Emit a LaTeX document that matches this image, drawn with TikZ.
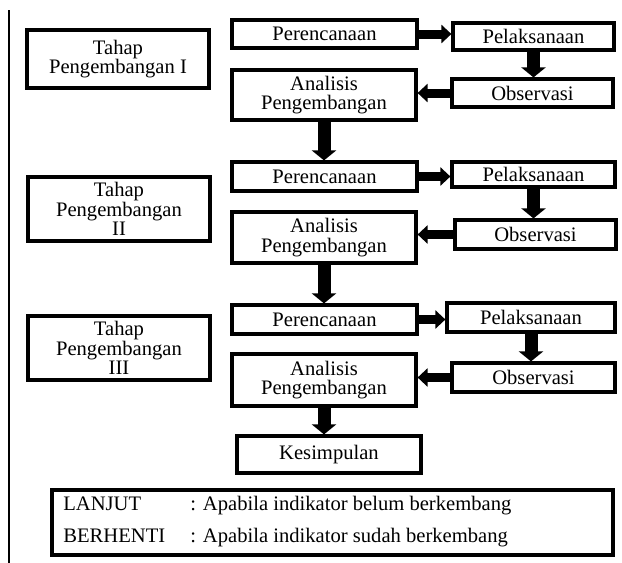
\documentclass[tikz,border=0pt]{standalone}
\usepackage{fontspec}
\setmainfont{Liberation Serif}
\usetikzlibrary{arrows.meta}

\begin{document}
\begin{tikzpicture}[x=0.5pt,y=-0.5pt,
  box/.style={draw,line width=1.6pt,inner sep=0pt,align=center,font=\fontsize{10.3}{9.6}\selectfont},
  txt/.style={anchor=base west,inner sep=0pt,font=\fontsize{10.3}{12}\selectfont},
  hbar/.style={line width=4.5pt,-{Triangle[length=5pt,width=9pt]}},
  vbar/.style={line width=6.5pt,-{Triangle[length=5pt,width=12pt]}}]
  \useasboundingbox (0,0) rectangle (622,563);
  % Margin line on the left
  \draw[line width=0.6pt] (9,10) -- (9,563);
  % Stage boxes
  \node[box,minimum width=91pt,minimum height=29pt] (tahap1) at (118,59) {Tahap\\Pengembangan I};
  \node[box,minimum width=91pt,minimum height=32pt] (tahap2) at (119,209) {Tahap\\Pengembangan\\II};
  \node[box,minimum width=91pt,minimum height=32pt] (tahap3) at (119,348) {Tahap\\Pengembangan\\III};
  % Cycle I
  \node[box,minimum width=92.5pt,minimum height=14pt] (per1) at (324.5,34) {Perencanaan};
  \node[box,minimum width=80.5pt,minimum height=13.5pt] (pel1) at (533.5,36.5) {Pelaksanaan};
  \node[box,minimum width=92pt,minimum height=25pt] (ana1) at (324,95) {Analisis\\Pengembangan};
  \node[box,minimum width=80.5pt,minimum height=14pt] (obs1) at (532.5,93) {Observasi};
  % Cycle II
  \node[box,minimum width=92.5pt,minimum height=14.5pt] (per2) at (324.5,176.5) {Perencanaan};
  \node[box,minimum width=81.5pt,minimum height=12.5pt] (pel2) at (533.5,174.5) {Pelaksanaan};
  \node[box,minimum width=92pt,minimum height=25.5pt] (ana2) at (324,237.5) {Analisis\\Pengembangan};
  \node[box,minimum width=80.5pt,minimum height=14.5pt] (obs2) at (535.5,234.5) {Observasi};
  % Cycle III
  \node[box,minimum width=92.5pt,minimum height=14.5pt] (per3) at (324.5,319.5) {Perencanaan};
  \node[box,minimum width=84pt,minimum height=14.5pt] (pel3) at (531,317.5) {Pelaksanaan};
  \node[box,minimum width=92pt,minimum height=26pt] (ana3) at (324,380) {Analisis\\Pengembangan};
  \node[box,minimum width=81.5pt,minimum height=14.5pt] (obs3) at (533.5,377.5) {Observasi};
  % Conclusion
  \node[box,minimum width=92pt,minimum height=18.5pt] (kes) at (329,454.5) {Kesimpulan};
  % Arrows
  \draw[hbar] (per1.east) -- (per1.east -| pel1.west);
  \draw[vbar] (pel1.south) -- (pel1.south |- obs1.north);
  \draw[hbar] (obs1.west) -- (obs1.west -| ana1.east);
  \draw[vbar] (ana1.south) -- (ana1.south |- per2.north);
  \draw[hbar] (per2.east) -- (per2.east -| pel2.west);
  \draw[vbar] (pel2.south) -- (pel2.south |- obs2.north);
  \draw[hbar] (obs2.west) -- (obs2.west -| ana2.east);
  \draw[vbar] (ana2.south) -- (ana2.south |- per3.north);
  \draw[hbar] (per3.east) -- (per3.east -| pel3.west);
  \draw[vbar] (pel3.south) -- (pel3.south |- obs3.north);
  \draw[hbar] (obs3.west) -- (obs3.west -| ana3.east);
  \draw[vbar] (ana3.south) -- (ana3.south |- kes.north);
  % Legend
  \node[box,minimum width=280.5pt,minimum height=32.5pt] (legend) at (332.5,522.5) {};
  \node[txt] (lanjut) at (63,510) {LANJUT};
  \node[txt] (lanjutdesc) at (190,510) {: Apabila indikator belum berkembang};
  \node[txt] (henti) at (63,542) {BERHENTI};
  \node[txt] (hentidesc) at (190,542) {: Apabila indikator sudah berkembang};
\end{tikzpicture}
\end{document}
